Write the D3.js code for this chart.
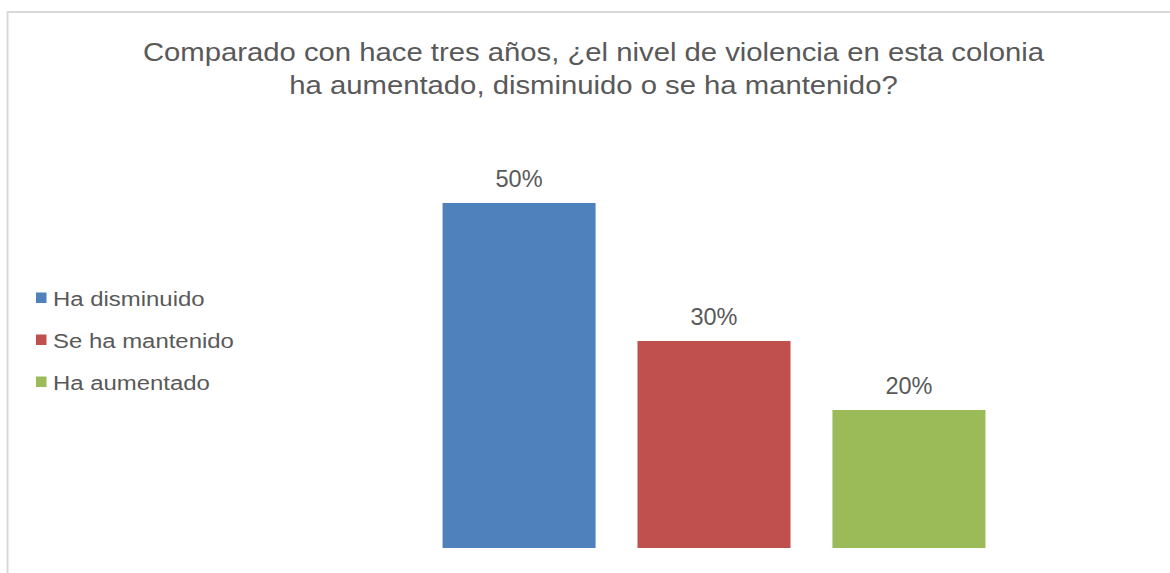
<!DOCTYPE html>
<html>
<head>
<meta charset="utf-8">
<script src="https://cdn.jsdelivr.net/npm/d3@7"></script>
<style>
  html, body { margin: 0; padding: 0; background: #fff; }
  svg { display: block; }
</style>
</head>
<body>
<svg id="chart" width="1170" height="573"></svg>
<script>
const titleLines = [
  "Comparado con hace tres años, ¿el nivel de violencia en esta colonia",
  "ha aumentado, disminuido o se ha mantenido?"
];
const categories = ["Ha disminuido", "Se ha mantenido", "Ha aumentado"];
const values = [50, 30, 20];
const colors = ["#4F81BD", "#C0504D", "#9BBB59"];

const svg = d3.select("#chart");
const font = "'Liberation Sans', Arial, sans-serif";
const textColor = "#595959";

// chart border
svg.append("rect")
  .attr("x", 7.5).attr("y", 12)
  .attr("width", 1200).attr("height", 620)
  .attr("fill", "#fff")
  .attr("stroke", "#d9d9d9").attr("stroke-width", 2);

// title (reference glyphs are slightly wide)
const titleCx = 593.5;
svg.append("g")
  .attr("transform", `translate(${titleCx},0) scale(1.105,1) translate(${-titleCx},0)`)
  .selectAll("text")
  .data(titleLines)
  .join("text")
  .attr("x", titleCx)
  .attr("y", (d, i) => 61 + i * 33)
  .attr("text-anchor", "middle")
  .attr("font-family", font)
  .attr("font-size", 26.5)
  .attr("fill", textColor)
  .text(d => d);

const x = d3.scaleBand()
  .domain(categories)
  .range([421.5, 1006.5])
  .paddingInner(0.215)
  .paddingOuter(0.108);

const y = d3.scaleLinear()
  .domain([0, 50])
  .range([548, 203]);

const data = categories.map((c, i) => ({ c, v: values[i], color: colors[i] }));

svg.append("g").selectAll("rect")
  .data(data)
  .join("rect")
  .attr("x", d => x(d.c))
  .attr("y", d => y(d.v))
  .attr("width", x.bandwidth())
  .attr("height", d => y(0) - y(d.v))
  .attr("fill", d => d.color);

svg.append("g").selectAll("text")
  .data(data)
  .join("text")
  .attr("x", d => x(d.c) + x.bandwidth() / 2)
  .attr("y", d => y(d.v) - 16)
  .attr("text-anchor", "middle")
  .attr("font-family", font)
  .attr("font-size", 23.5)
  .attr("fill", textColor)
  .text(d => d.v + "%");

// legend
const legend = svg.append("g").selectAll("g")
  .data(data)
  .join("g")
  .attr("transform", (d, i) => `translate(36, ${292.5 + i * 42})`);

legend.append("rect")
  .attr("width", 10.5).attr("height", 10.5)
  .attr("fill", d => d.color);

legend.append("text")
  .attr("transform", "translate(17,0) scale(1.14,1)")
  .attr("x", 0)
  .attr("y", 13.2)
  .attr("font-family", font)
  .attr("font-size", 21)
  .attr("fill", textColor)
  .text(d => d.c);
</script>
</body>
</html>
